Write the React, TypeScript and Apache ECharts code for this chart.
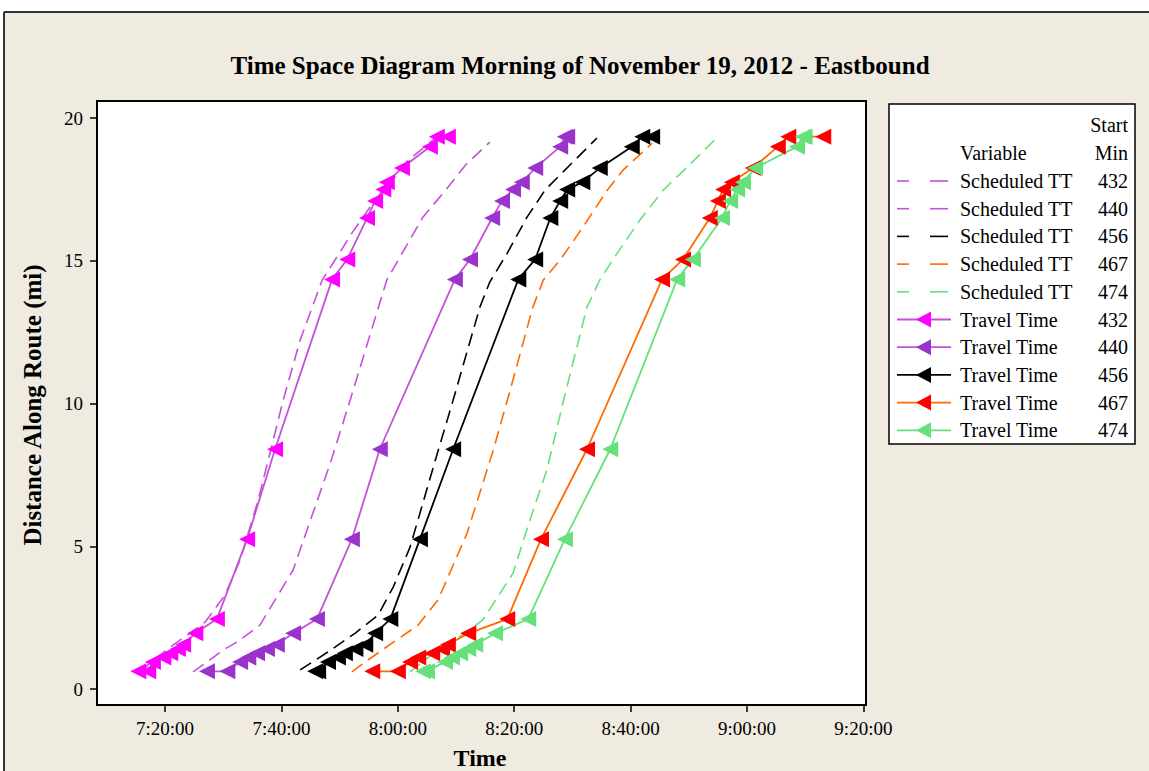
import React, { useEffect, useRef } from "react";
import * as echarts from "echarts";

// Distances (mi) of the timepoints for the observed Travel Time runs
const distances = [0.62, 0.62, 0.95, 1.1, 1.25, 1.4, 1.55, 1.95, 2.45, 5.25, 8.4, 14.35, 15.05, 16.5, 17.1, 17.5, 17.75, 18.25, 19.0, 19.35, 19.35];

// Observed times (minutes after midnight) at each distance
const travel432 = [435.4, 437.1, 437.9, 439.7, 440.9, 442.2, 443.1, 445.2, 448.9, 454.1, 458.9, 468.7, 471.3, 474.7, 476.1, 477.5, 478.1, 480.7, 485.5, 486.7, 488.6];
const travel440 = [447.2, 450.7, 452.9, 454.3, 455.8, 457.5, 459.2, 462.0, 466.1, 472.1, 476.9, 489.8, 492.4, 496.2, 497.9, 499.8, 501.3, 503.6, 507.9, 508.7, 509.1];
const travel456 = [465.8, 466.3, 468.0, 469.7, 470.9, 472.7, 474.4, 476.1, 478.7, 483.8, 489.5, 500.7, 503.6, 506.2, 507.9, 509.1, 511.7, 514.7, 520.2, 522.0, 523.7];
const travel467 = [475.6, 480.0, 482.1, 483.5, 485.9, 487.6, 488.6, 492.1, 498.8, 504.6, 512.5, 525.4, 529.0, 533.6, 535.0, 535.9, 537.4, 541.0, 545.3, 547.1, 553.1];
const travel474 = [484.3, 485.0, 488.1, 489.3, 490.7, 492.1, 493.3, 496.7, 502.4, 508.7, 516.5, 528.0, 530.7, 535.7, 537.1, 538.3, 539.3, 541.4, 548.6, 549.6, 549.9];

// Scheduled travel time curves: [time (min), distance (mi)]
const sched432 = [[435.7, 0.6], [439.1, 1.19], [442.6, 1.72], [446.9, 2.35], [450.3, 3.29], [452.9, 4.52], [456.0, 6.62], [460.3, 10.12], [463.2, 12.22], [467.0, 14.33], [469.2, 15.03], [472.1, 15.97], [475.2, 16.88], [481.8, 18.53], [486.9, 19.37]];
const sched440 = [[444.8, 0.6], [447.7, 1.02], [450.0, 1.37], [452.4, 1.65], [456.3, 2.24], [462.0, 4.17], [468.4, 7.92], [471.8, 10.12], [478.1, 14.33], [484.3, 16.53], [488.5, 17.55], [491.6, 18.35], [495.8, 19.16]];
const sched456 = [[463.2, 0.67], [468.0, 1.3], [472.7, 1.96], [476.6, 2.59], [479.2, 3.57], [482.1, 4.97], [486.1, 7.78], [489.5, 10.12], [494.1, 13.38], [495.8, 14.26], [498.8, 15.27], [502.2, 16.53], [505.3, 17.48], [508.7, 18.18], [514.2, 19.3]];
const sched467 = [[472.1, 0.6], [474.4, 0.95], [479.0, 1.61], [483.5, 2.24], [486.9, 3.12], [491.9, 5.46], [496.4, 8.37], [499.3, 10.47], [503.2, 13.38], [505.0, 14.33], [507.9, 15.03], [511.8, 16.18], [516.0, 17.48], [518.7, 18.18], [523.7, 19.12]];
const sched474 = [[482.1, 0.6], [484.7, 1.02], [488.1, 1.54], [491.6, 1.96], [494.6, 2.42], [499.8, 4.06], [502.7, 5.92], [505.6, 7.67], [508.7, 10.3], [512.5, 13.38], [514.7, 14.33], [517.7, 15.27], [521.6, 16.43], [525.6, 17.48], [529.7, 18.28], [534.9, 19.33]];

const startMins = ["432", "440", "456", "467", "474"];
const xTicks = [440, 460, 480, 500, 520, 540, 560];
const yTicks = [0, 5, 10, 15, 20];

const schedData = [sched432, sched440, sched456, sched467, sched474];
const travelData = [travel432, travel440, travel456, travel467, travel474];

const schedColors = ["#c452d8", "#c452d8", "#000000", "#ff6a00", "#66e07a"];
const travelLineColors = ["#c452d8", "#c452d8", "#000000", "#ff6a00", "#66e07a"];
const travelMarkerColors = ["#ff00ff", "#9933cc", "#000000", "#ff0000", "#66e07a"];

const SERIF = "'Liberation Serif', 'Times New Roman', serif";
const TRI = "path://M0,5L10,0L10,10Z";

function fmtTime(m: number) {
  const h = Math.floor(m / 60);
  const mm = Math.round(m - h * 60);
  return `${h}:${String(mm).padStart(2, "0")}:00`;
}

export default function App() {
  const ref = useRef<HTMLDivElement>(null);
  useEffect(() => {
    if (!ref.current) return;
    const chart = echarts.init(ref.current, undefined, { renderer: "svg" });

    const series: any[] = [];
    schedData.forEach((d, i) => {
      series.push({
        name: "Scheduled TT " + startMins[i],
        type: "line",
        data: d,
        showSymbol: false,
        symbol: "none",
        lineStyle: { color: schedColors[i], width: 1.6, type: [13, 7] },
        z: 2,
      });
    });
    travelData.forEach((t, i) => {
      series.push({
        name: "Travel Time " + startMins[i],
        type: "line",
        data: t.map((v, k) => [v, distances[k]]),
        symbol: TRI,
        symbolSize: 16,
        itemStyle: { color: travelMarkerColors[i] },
        lineStyle: { color: travelLineColors[i], width: 1.8 },
        z: 3,
      });
    });

    const graphic: any[] = [
      { type: "rect", shape: { x: 0, y: 0, width: 1149, height: 11 }, style: { fill: "#ffffff" }, silent: true },
      { type: "rect", shape: { x: 0, y: 0, width: 3, height: 771 }, style: { fill: "#ffffff" }, silent: true },
      { type: "line", shape: { x1: 4, y1: 12, x2: 1149, y2: 12 }, style: { stroke: "#333", lineWidth: 2 } },
      { type: "line", shape: { x1: 4, y1: 12, x2: 4, y2: 771 }, style: { stroke: "#333", lineWidth: 2 } },
      {
        type: "text", x: 580, y: 65,
        style: { text: "Time Space Diagram Morning of November 19, 2012 - Eastbound", font: `bold 25px ${SERIF}`, fill: "#000", align: "center", verticalAlign: "middle" },
      },
      {
        type: "text", x: 480, y: 758,
        style: { text: "Time", font: `bold 24px ${SERIF}`, fill: "#000", align: "center", verticalAlign: "middle" },
      },
      {
        type: "text", x: 32, y: 405, rotation: Math.PI / 2,
        style: { text: "Distance Along Route (mi)", font: `bold 25px ${SERIF}`, fill: "#000", align: "center", verticalAlign: "middle" },
      },
      { type: "rect", shape: { x: 889, y: 104, width: 246, height: 340 }, style: { fill: "#ffffff", stroke: "#000", lineWidth: 1.5 } },
      { type: "text", x: 1128, y: 125, style: { text: "Start", font: `20px ${SERIF}`, fill: "#000", align: "right", verticalAlign: "middle" } },
      { type: "text", x: 960, y: 153, style: { text: "Variable", font: `20px ${SERIF}`, fill: "#000", align: "left", verticalAlign: "middle" } },
      { type: "text", x: 1128, y: 153, style: { text: "Min", font: `20px ${SERIF}`, fill: "#000", align: "right", verticalAlign: "middle" } },
    ];
    for (let r = 0; r < 10; r++) {
      const y = 181 + r * 27.7;
      const i = r % 5;
      if (r < 5) {
        graphic.push({ type: "line", shape: { x1: 897, y1: y, x2: 909, y2: y }, style: { stroke: schedColors[i], lineWidth: 1.6 } });
        graphic.push({ type: "line", shape: { x1: 930, y1: y, x2: 948, y2: y }, style: { stroke: schedColors[i], lineWidth: 1.6 } });
        graphic.push({ type: "text", x: 960, y, style: { text: "Scheduled TT", font: `20px ${SERIF}`, fill: "#000", align: "left", verticalAlign: "middle" } });
      } else {
        graphic.push({ type: "line", shape: { x1: 897, y1: y, x2: 951, y2: y }, style: { stroke: travelLineColors[i], lineWidth: 1.8 } });
        graphic.push({ type: "polygon", shape: { points: [[916, y], [931, y - 8], [931, y + 8]] }, style: { fill: travelMarkerColors[i] } });
        graphic.push({ type: "text", x: 960, y, style: { text: "Travel Time", font: `20px ${SERIF}`, fill: "#000", align: "left", verticalAlign: "middle" } });
      }
      graphic.push({ type: "text", x: 1128, y, style: { text: startMins[i], font: `20px ${SERIF}`, fill: "#000", align: "right", verticalAlign: "middle" } });
    }

    chart.setOption({
      animation: false,
      backgroundColor: "#efebe1",
      grid: {
        left: 97, top: 101, width: 769, height: 604,
        show: true, backgroundColor: "#ffffff", borderColor: "#000", borderWidth: 2,
      },
      xAxis: {
        type: "value", min: 428.3, max: 560.45,
        splitLine: { show: false },
        axisLine: { show: true, onZero: false, lineStyle: { color: "#000", width: 2 } },
        axisTick: { show: true, customValues: xTicks, length: 7, lineStyle: { color: "#000", width: 1.5 } },
        axisLabel: { customValues: xTicks, formatter: (v: number) => fmtTime(v), color: "#000", fontSize: 19, fontFamily: SERIF, margin: 14 },
      },
      yAxis: {
        type: "value", min: -0.56, max: 20.6,
        splitLine: { show: false },
        axisLine: { show: true, onZero: false, lineStyle: { color: "#000", width: 2 } },
        axisTick: { show: true, customValues: yTicks, length: 7, lineStyle: { color: "#000", width: 1.5 } },
        axisLabel: { customValues: yTicks, color: "#000", fontSize: 19, fontFamily: SERIF, margin: 14 },
      },
      series,
      graphic,
    });
    return () => chart.dispose();
  }, []);
  return <div ref={ref} style={{ position: "fixed", left: 0, top: 0, width: 1149, height: 771 }} />;
}
